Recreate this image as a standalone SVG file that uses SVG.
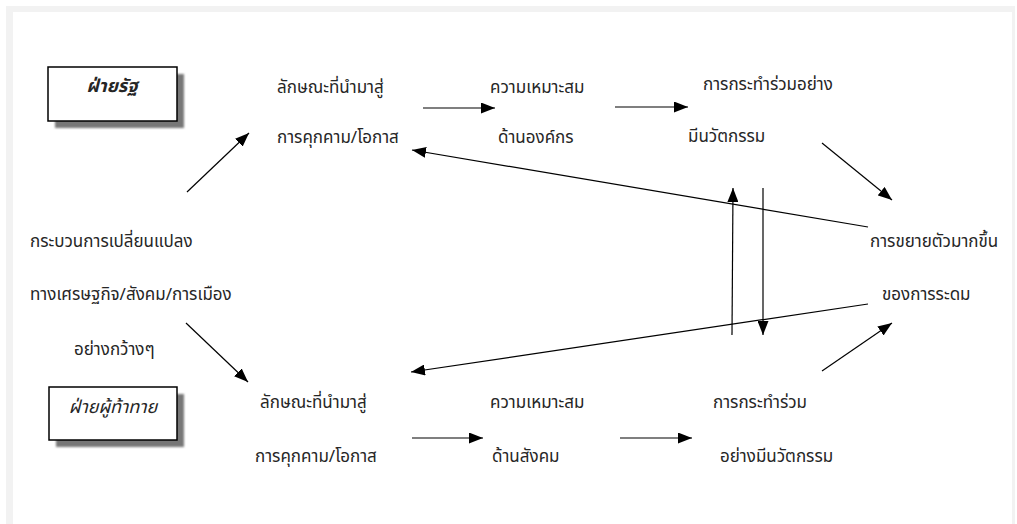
<svg xmlns="http://www.w3.org/2000/svg" width="1017" height="524" viewBox="0 0 1017 524">
<defs>
<marker id="ah" viewBox="0 0 14 11" refX="14" refY="5.5" markerWidth="14" markerHeight="11" markerUnits="userSpaceOnUse" orient="auto">
<path d="M0,0 L14,5.5 L0,11 Z" fill="#000"/>
</marker>
<filter id="blur" x="-10%" y="-10%" width="120%" height="120%"><feGaussianBlur stdDeviation="0.8"/></filter>
</defs>
<style>
text{font-family:"Noto Sans Thai","Noto Sans","DejaVu Sans",sans-serif;font-size:17px;fill:#262626}
.bx{font-size:18px}
.c line{stroke:#000;stroke-width:1.2;marker-end:url(#ah)}
.box{fill:#fff;stroke:#000;stroke-width:1.5}
.sh{fill:#777;filter:url(#blur)}
</style>
<rect width="1017" height="524" fill="#fff"/>
<rect x="6" y="6" width="1009" height="518" fill="#f2f2f2"/>
<rect x="13" y="12" width="999" height="512" fill="#fff"/>
<g id="box-state">
<rect class="sh" x="55" y="74" width="129" height="54"/>
<rect class="box" x="48" y="67" width="129" height="54"/>
<text class="bx" x="112" y="92" text-anchor="middle" font-style="italic" font-weight="bold">ฝ่ายรัฐ</text>
</g>
<g id="box-challenger">
<rect class="sh" x="56" y="394" width="128" height="53"/>
<rect class="box" x="49" y="387" width="128" height="53"/>
<text class="bx" x="113" y="413" text-anchor="middle" font-style="italic">ฝ่ายผู้ท้าทาย</text>
</g>
<g id="n-change">
<text x="30" y="247">กระบวนการเปลี่ยนแปลง</text>
<text x="30" y="300">ทางเศรษฐกิจ/สังคม/การเมือง</text>
<text x="74" y="355">อย่างกว้างๆ</text>
</g>
<g id="n-top1">
<text x="277" y="93">ลักษณะที่นำมาสู่</text>
<text x="277" y="143">การคุกคาม/โอกาส</text>
</g>
<g id="n-top2">
<text x="490" y="93">ความเหมาะสม</text>
<text x="498" y="143">ด้านองค์กร</text>
</g>
<g id="n-top3">
<text x="703" y="90">การกระทำร่วมอย่าง</text>
<text x="688" y="142">มีนวัตกรรม</text>
</g>
<g id="n-right">
<text x="870" y="247">การขยายตัวมากขึ้น</text>
<text x="882" y="300">ของการระดม</text>
</g>
<g id="n-bot1">
<text x="260" y="408">ลักษณะที่นำมาสู่</text>
<text x="255" y="462">การคุกคาม/โอกาส</text>
</g>
<g id="n-bot2">
<text x="490" y="408">ความเหมาะสม</text>
<text x="492" y="462">ด้านสังคม</text>
</g>
<g id="n-bot3">
<text x="713" y="408">การกระทำร่วม</text>
<text x="720" y="462">อย่างมีนวัตกรรม</text>
</g>
<g id="connectors" class="c">
<line x1="187" y1="192" x2="249" y2="133"/>
<line x1="423" y1="108" x2="495" y2="108"/>
<line x1="615" y1="107" x2="688" y2="107"/>
<line x1="822" y1="143" x2="892" y2="200"/>
<line x1="868" y1="227" x2="412" y2="150"/>
<line x1="732" y1="335" x2="733" y2="188"/>
<line x1="763" y1="188" x2="763" y2="335"/>
<line x1="868" y1="304" x2="411" y2="372"/>
<line x1="186" y1="323" x2="248" y2="382"/>
<line x1="412" y1="438" x2="483" y2="438"/>
<line x1="620" y1="438" x2="692" y2="438"/>
<line x1="822" y1="371" x2="892" y2="323"/>
</g>
</svg>
